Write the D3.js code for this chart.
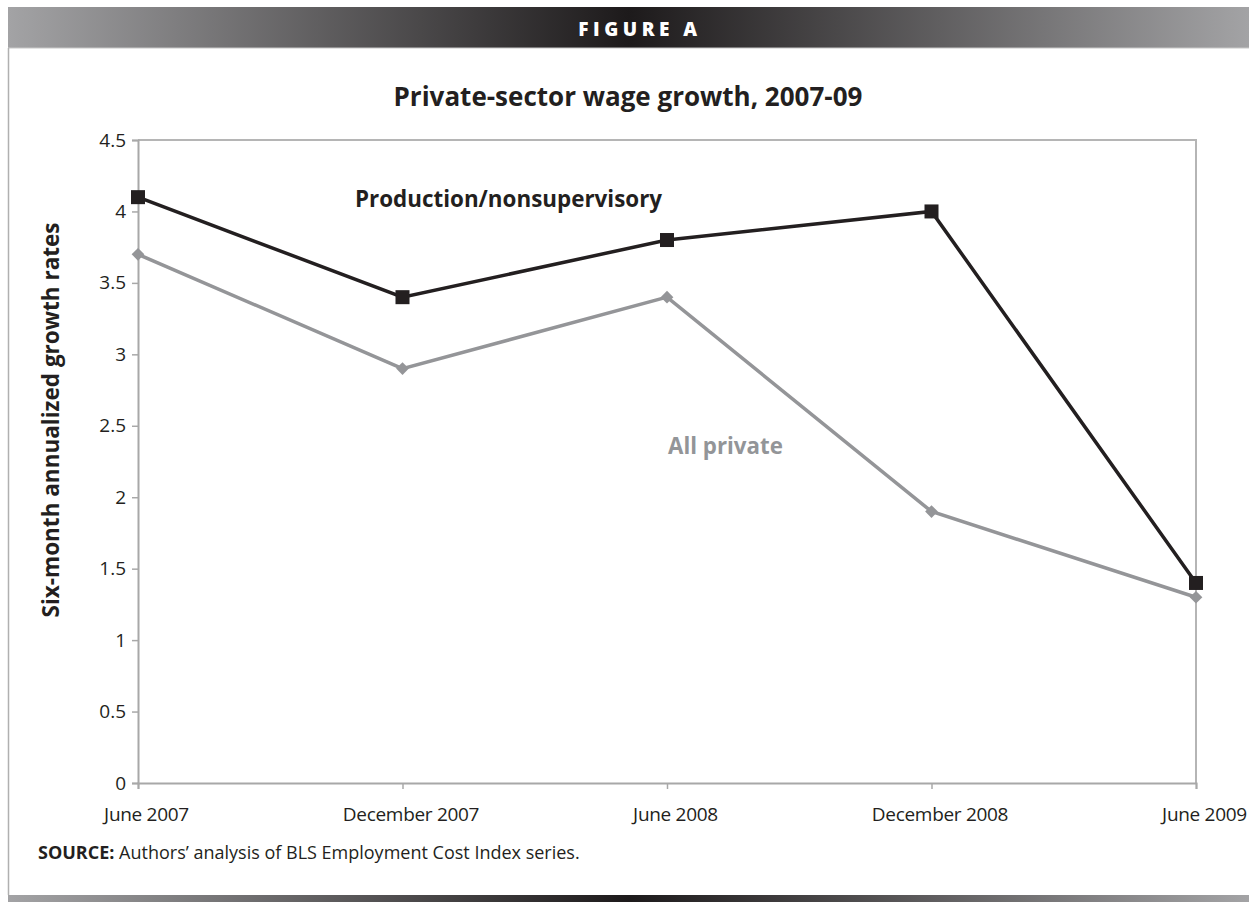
<!DOCTYPE html>
<html>
<head>
<meta charset="utf-8">
<script src="https://cdn.jsdelivr.net/npm/d3@7"></script>
<style>
  body { margin: 0; background: #fff; }
  svg { display: block; font-family: "Open Sans", "Noto Sans", sans-serif; }
</style>
</head>
<body>
<div id="chart"></div>
<script>
// data
var periods = ["June 2007", "December 2007", "June 2008", "December 2008", "June 2009"];
var production = [4.1, 3.4, 3.8, 4.0, 1.4];
var allPrivate = [3.7, 2.9, 3.4, 1.9, 1.3];
var yTicks = [0, 0.5, 1, 1.5, 2, 2.5, 3, 3.5, 4, 4.5];

var W = 1249, H = 902;
var margin = { top: 140, right: 53, bottom: 119, left: 138 };

var svg = d3.select("#chart").append("svg")
    .attr("width", W)
    .attr("height", H);

// header / footer gradients
var defs = svg.append("defs");
var grad = defs.append("linearGradient").attr("id", "bar").attr("x1", "0%").attr("x2", "100%");
grad.append("stop").attr("offset", "0%").attr("stop-color", "#a3a3a5");
grad.append("stop").attr("offset", "50%").attr("stop-color", "#1d1a1b");
grad.append("stop").attr("offset", "100%").attr("stop-color", "#a3a3a5");

svg.append("rect").attr("x", 8).attr("y", 7).attr("width", W - 8).attr("height", 41)
    .attr("fill", "url(#bar)");
svg.append("line").attr("x1", 8).attr("x2", W).attr("y1", 48).attr("y2", 48)
    .attr("stroke", "#c8c8c8").attr("stroke-width", 1);
svg.append("rect").attr("x", 8).attr("y", 895).attr("width", W - 8).attr("height", 7)
    .attr("fill", "url(#bar)");
// frame left edge
svg.append("line").attr("x1", 8.5).attr("x2", 8.5).attr("y1", 48).attr("y2", 895)
    .attr("stroke", "#b0b0b0").attr("stroke-width", 1.5);

svg.append("text")
    .attr("x", 640).attr("y", 36)
    .attr("text-anchor", "middle")
    .attr("fill", "#fff")
    .style("font-weight", 800)
    .style("font-size", "19px")
    .style("letter-spacing", "4.5px")
    .text("FIGURE A");

svg.append("text")
    .attr("x", 628).attr("y", 106)
    .attr("text-anchor", "middle")
    .attr("fill", "#231f20")
    .style("font-weight", 700)
    .style("font-size", "26px")
    .text("Private-sector wage growth, 2007-09");

var width = W - margin.left - margin.right,
    height = H - margin.top - margin.bottom;

var g = svg.append("g").attr("transform", `translate(${margin.left},${margin.top})`);

var x = d3.scalePoint().domain(periods).range([0, width]);
var y = d3.scaleLinear().domain([0, 4.5]).range([height, 0]);

// plot box (top and right edges)
g.append("path")
    .attr("d", `M0,0H${width}V${height}`)
    .attr("fill", "none")
    .attr("stroke", "#b5b5b5")
    .attr("stroke-width", 2);

// y axis
var yAxis = g.append("g")
    .call(d3.axisLeft(y).tickValues(yTicks).tickSize(6).tickPadding(6).tickFormat(d3.format("")));
yAxis.select(".domain").attr("stroke", "#a8a8a8").attr("stroke-width", 2);
yAxis.selectAll(".tick line").attr("stroke", "#a8a8a8").attr("stroke-width", 1.5);
yAxis.selectAll("text").attr("fill", "#231f20").style("font-size", "19px")
    .style("font-family", "'Open Sans', sans-serif");

// x axis
var xAxis = g.append("g")
    .attr("transform", `translate(0,${height})`)
    .call(d3.axisBottom(x).tickSize(6).tickPadding(19));
xAxis.select(".domain").attr("stroke", "#a8a8a8").attr("stroke-width", 2);
xAxis.selectAll(".tick line").attr("stroke", "#a8a8a8").attr("stroke-width", 1.5);
xAxis.selectAll("text").attr("fill", "#231f20").style("font-size", "19px")
    .attr("dx", 8)
    .style("font-family", "'Open Sans', sans-serif")
    .style("letter-spacing", "-0.3px");

// y axis title
svg.append("text")
    .attr("transform", "translate(59,420) rotate(-90)")
    .attr("text-anchor", "middle")
    .attr("fill", "#231f20")
    .style("font-weight", 700)
    .style("font-size", "22.5px")
    .text("Six-month annualized growth rates");

var line = d3.line().x((d, i) => x(periods[i])).y(d => y(d));

// All private (grey, diamonds)
g.append("path")
    .datum(allPrivate)
    .attr("d", line)
    .attr("fill", "none")
    .attr("stroke", "#949598")
    .attr("stroke-width", 3.5)
    .attr("stroke-linejoin", "miter");
g.selectAll(".diamond")
    .data(allPrivate)
    .enter().append("path")
    .attr("class", "diamond")
    .attr("transform", (d, i) => `translate(${x(periods[i])},${y(d)}) rotate(45)`)
    .attr("d", "M-4.5,-4.5H4.5V4.5H-4.5Z")
    .attr("fill", "#949598");

// Production/nonsupervisory (black, squares)
g.append("path")
    .datum(production)
    .attr("d", line)
    .attr("fill", "none")
    .attr("stroke", "#231f20")
    .attr("stroke-width", 3.5);
g.selectAll(".sq")
    .data(production)
    .enter().append("rect")
    .attr("class", "sq")
    .attr("x", (d, i) => x(periods[i]) - 7)
    .attr("y", d => y(d) - 7)
    .attr("width", 14)
    .attr("height", 14)
    .attr("fill", "#231f20");

// series labels
svg.append("text")
    .attr("x", 355).attr("y", 207)
    .attr("fill", "#231f20")
    .style("font-weight", 700)
    .style("font-size", "22.4px")
    .text("Production/nonsupervisory");

svg.append("text")
    .attr("x", 668).attr("y", 454)
    .attr("fill", "#939598")
    .style("font-weight", 700)
    .style("font-size", "22.3px")
    .text("All private");

// source note
var src = svg.append("text")
    .attr("x", 38).attr("y", 859)
    .attr("fill", "#231f20")
    .style("font-size", "18px");
src.append("tspan").style("font-weight", 700).text("SOURCE:");
src.append("tspan").text(" Authors\u2019 analysis of BLS Employment Cost Index series.");
</script>
</body>
</html>
